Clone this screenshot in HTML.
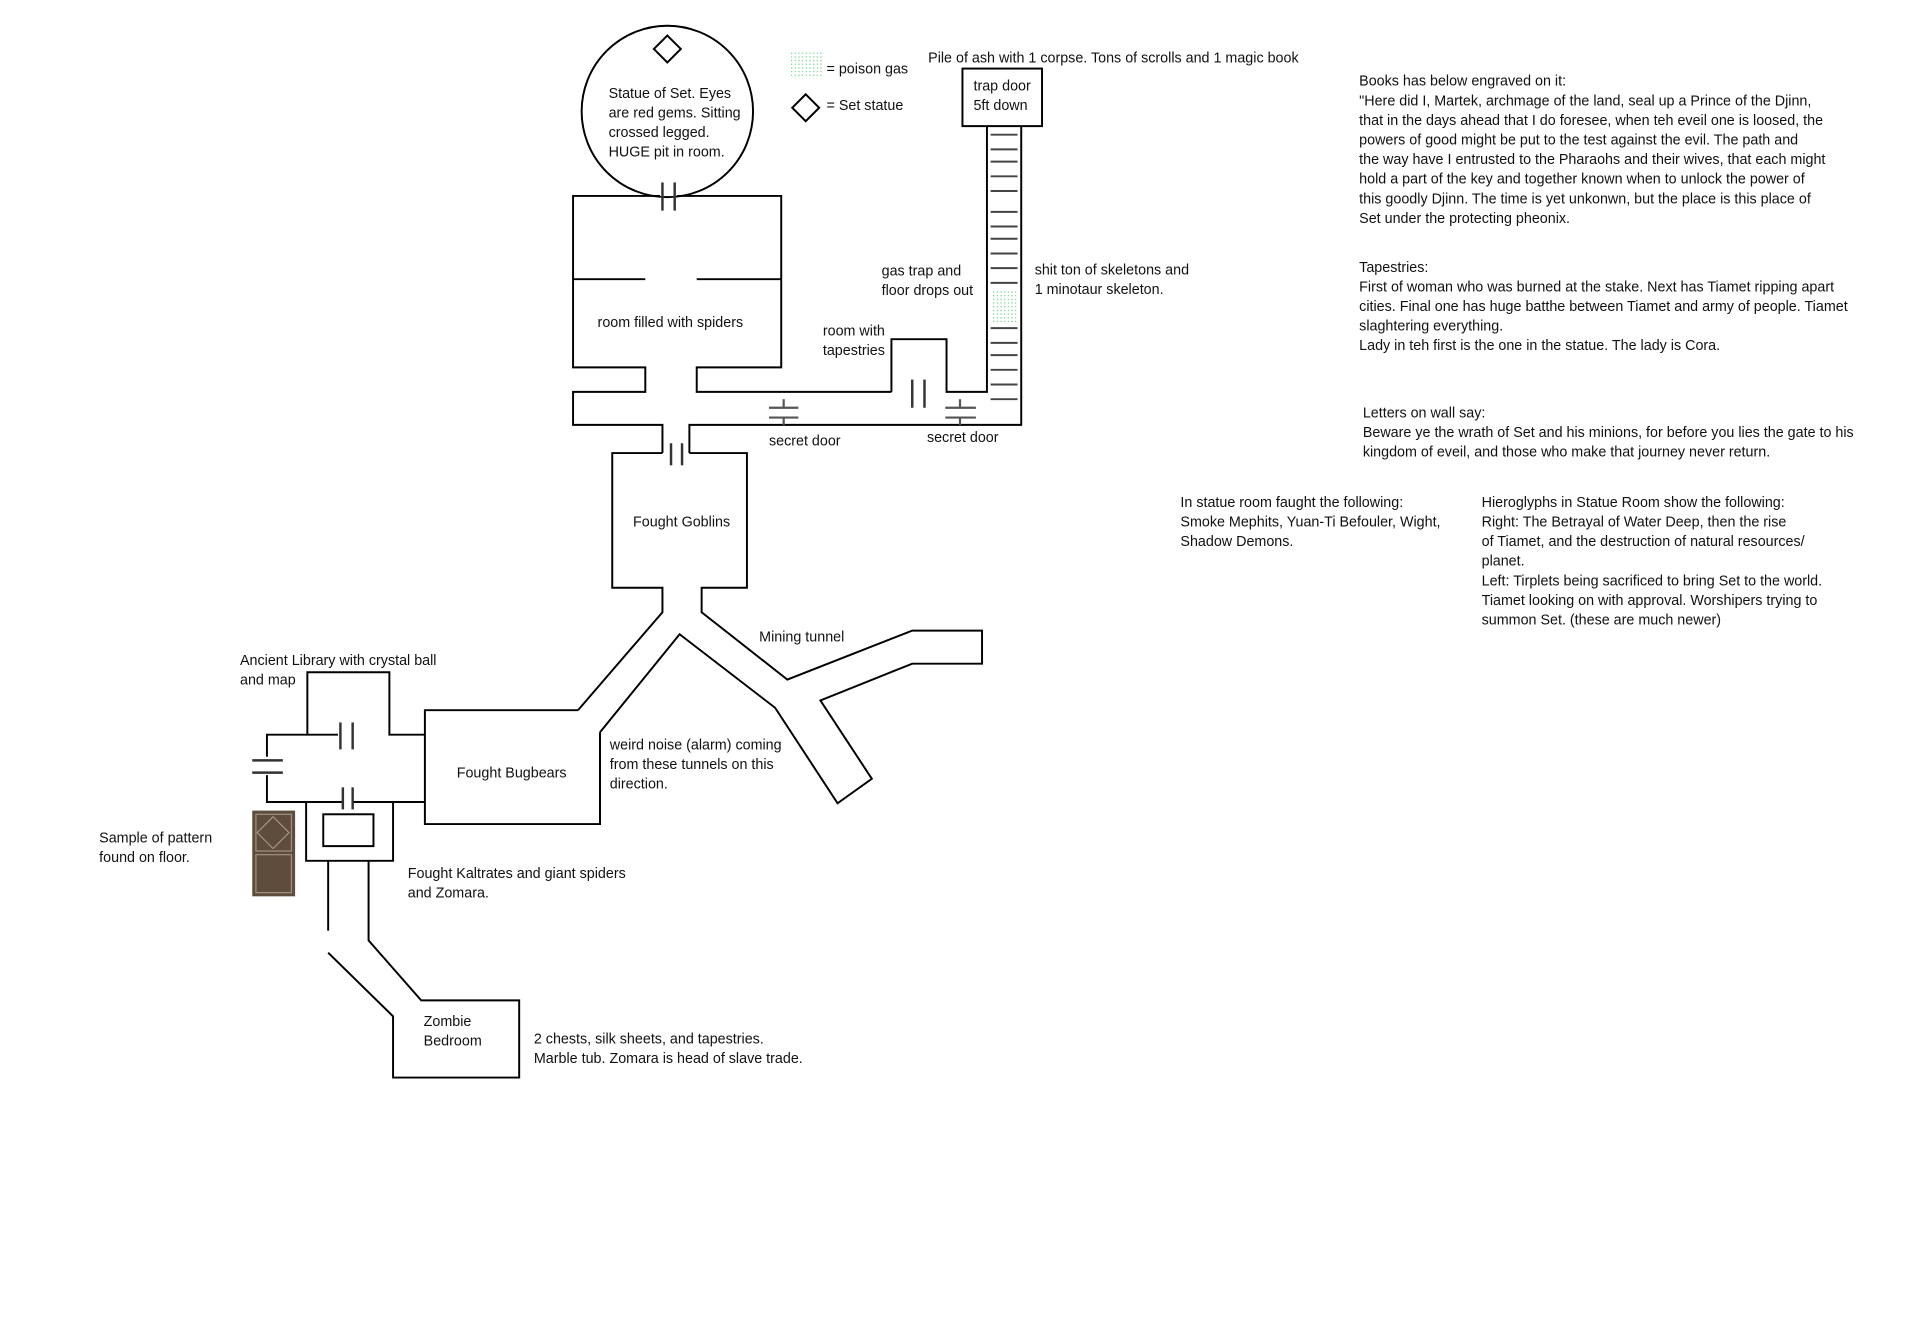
<!DOCTYPE html>
<html><head><meta charset="utf-8"><style>
html,body{margin:0;padding:0;background:#fff;}
svg{display:block}
text{font-family:"Liberation Sans",sans-serif;font-size:11.7px;fill:#111}
</style></head><body>
<svg width="1920" height="1344" viewBox="0 0 1568 1097.6" xmlns="http://www.w3.org/2000/svg">
<defs>
<pattern id="gas" width="3" height="3" patternUnits="userSpaceOnUse"><circle cx="1.5" cy="1.5" r="0.55" fill="#5fd07a"/></pattern>
</defs>
<g fill="none" stroke="#000" stroke-width="1.6">
<circle cx="545" cy="91" r="70" fill="#fff"/>
<polygon points="545,29 556,40 545,51 534,40"/>
<polyline points="539,160 468,160 468,300 527,300 527,320 468,320 468,347 541,347 541,370"/>
<polyline points="553,160 638,160 638,300 569,300 569,320 728,320"/>
<line x1="468" y1="228" x2="527" y2="228"/>
<line x1="569" y1="228" x2="638" y2="228"/>
<polyline points="728,320 728,277 773,277 773,320 806,320 806,103"/>
<rect x="786" y="56" width="65" height="47"/>
<polyline points="834,103 834,347 563,347 563,370"/>
<polyline points="541,370 500,370 500,480 541,480 541,500 472,580"/>
<polyline points="563,370 610,370 610,480 573,480 573,500 643,555 745,515 802,515 802,542 745,542 670,572 712,636 684,656 633,578 555,518 490,598"/>
<polyline points="472,580 347,580 347,673 490,673 490,598"/>
<polyline points="347,600 318,600 318,549 251,549 251,600 218,600 218,618"/>
<polyline points="218,633 218,655 250,655 250,703 321,703 321,655 347,655"/>
<line x1="251" y1="600" x2="276" y2="600"/>
<line x1="250" y1="655" x2="280" y2="655"/>
<line x1="288" y1="655" x2="321" y2="655"/>
<rect x="264" y="665" width="41" height="26"/>
<polyline points="268,703 268,760"/>
<polyline points="268,778 321,830 321,880 424,880 424,817 344,817 301,768 301,703"/>
</g>
<g stroke="#333" stroke-width="2">
<line x1="541" y1="149" x2="541" y2="172"/><line x1="551" y1="149" x2="551" y2="172"/>
<line x1="548" y1="362" x2="548" y2="380"/><line x1="557" y1="362" x2="557" y2="380"/>
<line x1="745" y1="310" x2="745" y2="333"/><line x1="755" y1="310" x2="755" y2="333"/>
<line x1="278" y1="590" x2="278" y2="612"/><line x1="288" y1="590" x2="288" y2="612"/>
<line x1="280" y1="643" x2="280" y2="661"/><line x1="288" y1="643" x2="288" y2="661"/>
<line x1="206" y1="621" x2="231" y2="621"/><line x1="206" y1="631" x2="231" y2="631"/>
</g>
<g stroke="#555" stroke-width="1.8">
<line x1="628" y1="333" x2="652" y2="333"/><line x1="628" y1="341" x2="652" y2="341"/><line x1="640" y1="326" x2="640" y2="333"/><line x1="640" y1="341" x2="640" y2="347"/>
<line x1="772" y1="333" x2="797" y2="333"/><line x1="772" y1="341" x2="797" y2="341"/><line x1="784" y1="326" x2="784" y2="333"/><line x1="784" y1="341" x2="784" y2="347"/>
</g>
<g stroke="#444" stroke-width="1.6">
<line x1="809" y1="110" x2="831" y2="110"/><line x1="809" y1="122" x2="831" y2="122"/><line x1="809" y1="132" x2="831" y2="132"/><line x1="809" y1="144" x2="831" y2="144"/><line x1="809" y1="156" x2="831" y2="156"/><line x1="809" y1="173" x2="831" y2="173"/><line x1="809" y1="185" x2="831" y2="185"/><line x1="809" y1="195" x2="831" y2="195"/><line x1="809" y1="207" x2="831" y2="207"/><line x1="809" y1="219" x2="831" y2="219"/><line x1="809" y1="231" x2="831" y2="231"/><line x1="809" y1="268" x2="831" y2="268"/><line x1="809" y1="280" x2="831" y2="280"/><line x1="809" y1="290" x2="831" y2="290"/><line x1="809" y1="302" x2="831" y2="302"/><line x1="809" y1="314" x2="831" y2="314"/><line x1="809" y1="326" x2="831" y2="326"/>
</g>
<rect x="810" y="237" width="20" height="27" fill="url(#gas)"/>
<rect x="646" y="42" width="26" height="22" fill="url(#gas)"/>
<polygon points="658,77 669,88 658,99 647,88" fill="none" stroke="#000" stroke-width="1.6"/>
<rect x="206" y="662" width="35" height="70" fill="#5e4c3c"/>
<rect x="209" y="665" width="29" height="30" fill="none" stroke="#a09080" stroke-width="1"/>
<rect x="209" y="698" width="29" height="31" fill="none" stroke="#a09080" stroke-width="1"/>
<polygon points="223,667 236,680 223,693 210,680" fill="none" stroke="#b0a090" stroke-width="0.8"/>
<text x="497" y="80">Statue of Set. Eyes</text>
<text x="497" y="96">are red gems. Sitting</text>
<text x="497" y="112">crossed legged.</text>
<text x="497" y="128">HUGE pit in room.</text>
<text x="488" y="267">room filled with spiders</text>
<text x="517" y="430">Fought Goblins</text>
<text x="373" y="635">Fought Bugbears</text>
<text x="346" y="838">Zombie</text>
<text x="346" y="854">Bedroom</text>
<text x="675" y="60">= poison gas</text>
<text x="675" y="90">= Set statue</text>
<text x="758" y="51">Pile of ash with 1 corpse. Tons of scrolls and 1 magic book</text>
<text x="795" y="74">trap door</text>
<text x="795" y="90">5ft down</text>
<text x="720" y="225">gas trap and</text>
<text x="720" y="241">floor drops out</text>
<text x="845" y="224">shit ton of skeletons and</text>
<text x="845" y="240">1 minotaur skeleton.</text>
<text x="672" y="274">room with</text>
<text x="672" y="290">tapestries</text>
<text x="628" y="364">secret door</text>
<text x="757" y="361">secret door</text>
<text x="620" y="524">Mining tunnel</text>
<text x="196" y="543">Ancient Library with crystal ball</text>
<text x="196" y="559">and map</text>
<text x="498" y="612">weird noise (alarm) coming</text>
<text x="498" y="628">from these tunnels on this</text>
<text x="498" y="644">direction.</text>
<text x="81" y="688">Sample of pattern</text>
<text x="81" y="704">found on floor.</text>
<text x="333" y="717">Fought Kaltrates and giant spiders</text>
<text x="333" y="733">and Zomara.</text>
<text x="436" y="852">2 chests, silk sheets, and tapestries.</text>
<text x="436" y="868">Marble tub. Zomara is head of slave trade.</text>
<text x="1110" y="70">Books has below engraved on it:</text>
<text x="1110" y="86">"Here did I, Martek, archmage of the land, seal up a Prince of the Djinn,</text>
<text x="1110" y="102">that in the days ahead that I do foresee, when teh eveil one is loosed, the</text>
<text x="1110" y="118">powers of good might be put to the test against the evil. The path and</text>
<text x="1110" y="134">the way have I entrusted to the Pharaohs and their wives, that each might</text>
<text x="1110" y="150">hold a part of the key and together known when to unlock the power of</text>
<text x="1110" y="166">this goodly Djinn. The time is yet unkonwn, but the place is this place of</text>
<text x="1110" y="182">Set under the protecting pheonix.</text>
<text x="1110" y="222">Tapestries:</text>
<text x="1110" y="238">First of woman who was burned at the stake. Next has Tiamet ripping apart</text>
<text x="1110" y="254">cities. Final one has huge batthe between Tiamet and army of people. Tiamet</text>
<text x="1110" y="270">slaghtering everything.</text>
<text x="1110" y="286">Lady in teh first is the one in the statue. The lady is Cora.</text>
<text x="1113" y="341">Letters on wall say:</text>
<text x="1113" y="357">Beware ye the wrath of Set and his minions, for before you lies the gate to his</text>
<text x="1113" y="373">kingdom of eveil, and those who make that journey never return.</text>
<text x="964" y="414">In statue room faught the following:</text>
<text x="964" y="430">Smoke Mephits, Yuan-Ti Befouler, Wight,</text>
<text x="964" y="446">Shadow Demons.</text>
<text x="1210" y="414">Hieroglyphs in Statue Room show the following:</text>
<text x="1210" y="430">Right: The Betrayal of Water Deep, then the rise</text>
<text x="1210" y="446">of Tiamet, and the destruction of natural resources/</text>
<text x="1210" y="462">planet.</text>
<text x="1210" y="478">Left: Tirplets being sacrificed to bring Set to the world.</text>
<text x="1210" y="494">Tiamet looking on with approval. Worshipers trying to</text>
<text x="1210" y="510">summon Set. (these are much newer)</text>
</svg>
</body></html>
